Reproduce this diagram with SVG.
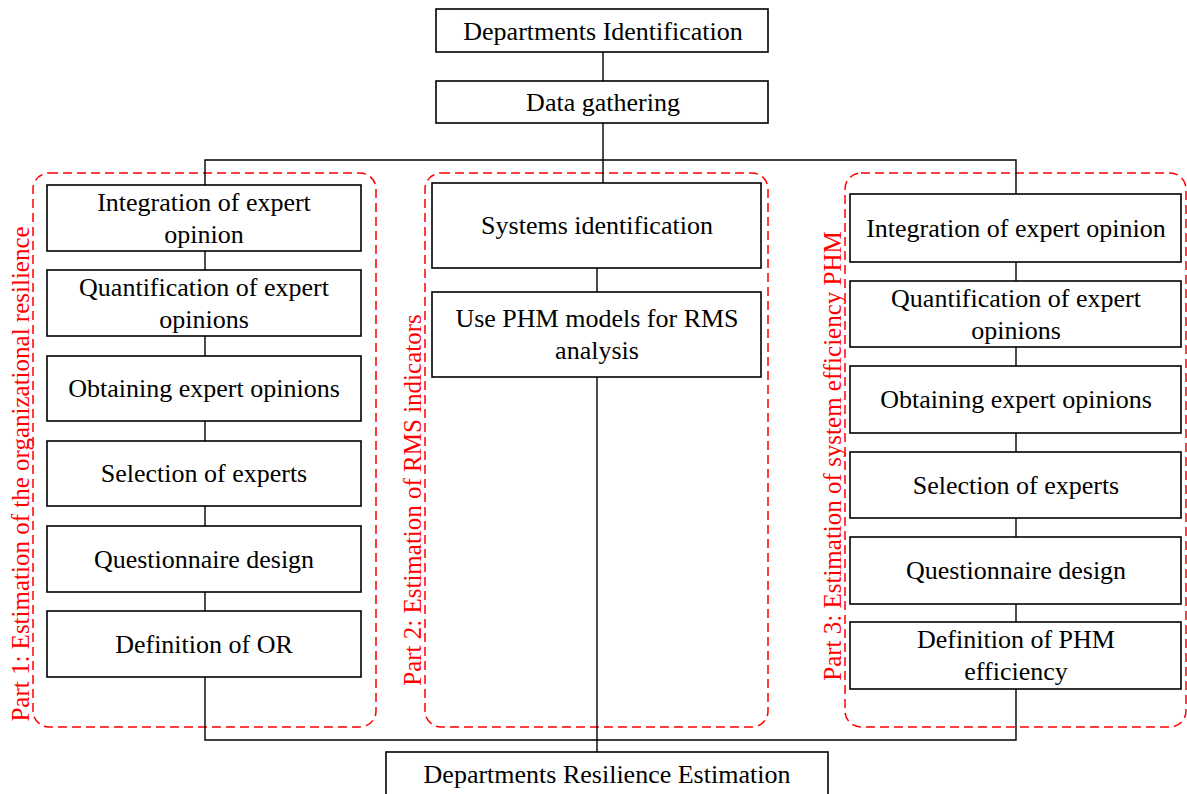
<svg xmlns="http://www.w3.org/2000/svg" width="1187" height="794" viewBox="0 0 1187 794">
<style>
.box{fill:#fff;stroke:#000;stroke-width:1.6}
.t{font-family:"Liberation Serif","Times New Roman",serif;font-size:26px;fill:#000;text-anchor:middle}
.part{fill:none;stroke:#ff0000;stroke-width:1.5;stroke-dasharray:9,5}
.pl{font-family:"Liberation Serif","Times New Roman",serif;font-size:25px;fill:#ff0000;text-anchor:middle}
.c{fill:none;stroke:#000;stroke-width:1.4}
</style>
<rect width="1187" height="794" fill="#fff"/>
<g id="parts">
<rect class="part" x="33" y="173" width="343" height="554" rx="16"/>
<rect class="part" x="425" y="173" width="343" height="554" rx="16"/>
<rect class="part" x="845" y="173" width="341" height="554" rx="16"/>
<text class="pl" transform="translate(29,474) rotate(-90)">Part 1: Estimation of the organizational resilience</text>
<text class="pl" transform="translate(421,500) rotate(-90)">Part 2: Estimation of RMS indicators</text>
<text class="pl" transform="translate(841,456) rotate(-90)">Part 3: Estimation of system efficiency PHM</text>
</g>
<g id="connectors">
<polyline class="c" points="603,52 603,81"/>
<polyline class="c" points="603,123 603,183"/>
<polyline class="c" points="205,185 205,160 1016,160 1016,194"/>
<line class="c" x1="205" y1="251" x2="205" y2="270"/>
<line class="c" x1="205" y1="336" x2="205" y2="356"/>
<line class="c" x1="205" y1="421" x2="205" y2="441"/>
<line class="c" x1="205" y1="506" x2="205" y2="526"/>
<line class="c" x1="205" y1="592" x2="205" y2="611"/>
<line class="c" x1="597" y1="268" x2="597" y2="292"/>
<line class="c" x1="597" y1="377" x2="597" y2="752"/>
<line class="c" x1="1016" y1="262" x2="1016" y2="281"/>
<line class="c" x1="1016" y1="347" x2="1016" y2="366"/>
<line class="c" x1="1016" y1="433" x2="1016" y2="452"/>
<line class="c" x1="1016" y1="518" x2="1016" y2="537"/>
<line class="c" x1="1016" y1="604" x2="1016" y2="622"/>
<polyline class="c" points="205,677 205,740 1016,740 1016,689"/>
</g>
<g id="n_dept_id"><rect class="box" x="436" y="9" width="332" height="43"/><text class="t" x="603" y="40">Departments Identification</text></g>
<g id="n_data"><rect class="box" x="436" y="81" width="332" height="42"/><text class="t" x="603" y="111">Data gathering</text></g>
<g id="n_l1"><rect class="box" x="47" y="185" width="314" height="66"/><text class="t" x="204" y="211">Integration of expert</text><text class="t" x="204" y="243">opinion</text></g>
<g id="n_l2"><rect class="box" x="47" y="270" width="314" height="66"/><text class="t" x="204" y="296">Quantification of expert</text><text class="t" x="204" y="328">opinions</text></g>
<g id="n_l3"><rect class="box" x="47" y="356" width="314" height="65"/><text class="t" x="204" y="397">Obtaining expert opinions</text></g>
<g id="n_l4"><rect class="box" x="47" y="441" width="314" height="65"/><text class="t" x="204" y="482">Selection of experts</text></g>
<g id="n_l5"><rect class="box" x="47" y="526" width="314" height="66"/><text class="t" x="204" y="568">Questionnaire design</text></g>
<g id="n_l6"><rect class="box" x="47" y="611" width="314" height="66"/><text class="t" x="204" y="653">Definition of OR</text></g>
<g id="n_m1"><rect class="box" x="432" y="183" width="329" height="85"/><text class="t" x="597" y="234">Systems identification</text></g>
<g id="n_m2"><rect class="box" x="432" y="292" width="329" height="85"/><text class="t" x="597" y="327">Use PHM models for RMS</text><text class="t" x="597" y="359">analysis</text></g>
<g id="n_r1"><rect class="box" x="850" y="194" width="331" height="68"/><text class="t" x="1016" y="237">Integration of expert opinion</text></g>
<g id="n_r2"><rect class="box" x="850" y="281" width="331" height="66"/><text class="t" x="1016" y="307">Quantification of expert</text><text class="t" x="1016" y="339">opinions</text></g>
<g id="n_r3"><rect class="box" x="850" y="366" width="331" height="67"/><text class="t" x="1016" y="408">Obtaining expert opinions</text></g>
<g id="n_r4"><rect class="box" x="850" y="452" width="331" height="66"/><text class="t" x="1016" y="494">Selection of experts</text></g>
<g id="n_r5"><rect class="box" x="850" y="537" width="331" height="67"/><text class="t" x="1016" y="579">Questionnaire design</text></g>
<g id="n_r6"><rect class="box" x="850" y="622" width="331" height="67"/><text class="t" x="1016" y="648">Definition of PHM</text><text class="t" x="1016" y="680">efficiency</text></g>
<g id="n_final"><rect class="box" x="386" y="752" width="442" height="50"/><text class="t" x="607" y="783">Departments Resilience Estimation</text></g>
</svg>
